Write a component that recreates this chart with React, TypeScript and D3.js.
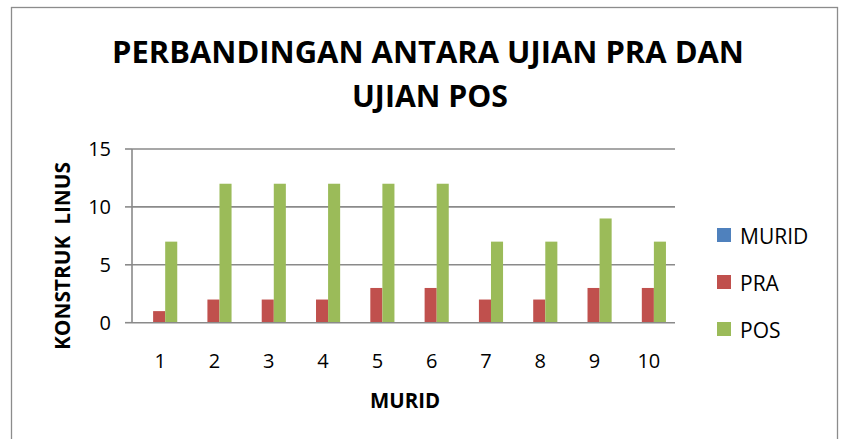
import React, { useEffect, useRef } from "react";
import * as d3 from "d3";

const categories = ["1", "2", "3", "4", "5", "6", "7", "8", "9", "10"];
const seriesNames = ["MURID", "PRA", "POS"];
const muridValues = [0, 0, 0, 0, 0, 0, 0, 0, 0, 0];
const praValues = [1, 2, 2, 2, 3, 3, 2, 2, 3, 3];
const posValues = [7, 12, 12, 12, 12, 12, 7, 7, 9, 7];
const yTicks = [0, 5, 10, 15];
const colors = ["#4F81BD", "#C0504D", "#9BBB59"];

const App: React.FC = () => {
  const svgRef = useRef(null);

  useEffect(() => {
    if (!svgRef.current) return;
    const svg = d3.select(svgRef.current);
    svg.selectAll("*").remove();

    const width = 844;
    const height = 439;
    const font = "'Open Sans', 'Liberation Sans', sans-serif";

    svg.attr("width", width).attr("height", height);

    // chart frame
    svg
      .append("rect")
      .attr("x", 11.5)
      .attr("y", 7.5)
      .attr("width", 826)
      .attr("height", 440)
      .attr("fill", "white")
      .attr("stroke", "#8c8c8c")
      .attr("stroke-width", 1.3);

    // title
    const title = svg
      .append("g")
      .attr("font-family", font)
      .attr("font-weight", "bold")
      .attr("font-size", 31)
      .attr("fill", "#000")
      .attr("text-anchor", "middle");
    title
      .append("text")
      .attr("x", 428)
      .attr("y", 63)
      .attr("textLength", 632)
      .attr("lengthAdjust", "spacingAndGlyphs")
      .text("PERBANDINGAN ANTARA UJIAN PRA DAN");
    title
      .append("text")
      .attr("x", 430)
      .attr("y", 107)
      .attr("textLength", 156)
      .attr("lengthAdjust", "spacingAndGlyphs")
      .text("UJIAN POS");

    const left = 132;
    const right = 675;
    const top = 149;
    const bottom = 322.7;

    const x = d3.scaleBand().domain(categories).range([left, right]).padding(0);
    const y = d3.scaleLinear().domain([0, 15]).range([bottom, top]);

    // gridlines
    svg
      .append("g")
      .selectAll("line")
      .data(yTicks.filter((t) => t > 0))
      .join("line")
      .attr("x1", left)
      .attr("x2", right)
      .attr("y1", (d) => y(d))
      .attr("y2", (d) => y(d))
      .attr("stroke", "#8a8a8a")
      .attr("stroke-width", 1.6);

    // bars, Excel style gap width 150%
    const bw = x.bandwidth() / 4.5;
    const allSeries = [muridValues, praValues, posValues];
    allSeries.forEach((vals, si) => {
      svg
        .append("g")
        .selectAll("rect")
        .data(vals)
        .join("rect")
        .attr("x", (d, i) => (x(categories[i]) as number) + bw * 0.75 + si * bw)
        .attr("y", (d) => y(d))
        .attr("width", bw)
        .attr("height", (d) => bottom - y(d))
        .attr("fill", colors[si]);
    });

    // y axis
    const yAxis = svg.append("g");
    yAxis
      .append("line")
      .attr("x1", left)
      .attr("x2", left)
      .attr("y1", top)
      .attr("y2", bottom)
      .attr("stroke", "#8a8a8a")
      .attr("stroke-width", 1.6);
    yAxis
      .selectAll("line.tick")
      .data(yTicks)
      .join("line")
      .attr("class", "tick")
      .attr("x1", 125)
      .attr("x2", left)
      .attr("y1", (d) => y(d))
      .attr("y2", (d) => y(d))
      .attr("stroke", "#8a8a8a")
      .attr("stroke-width", 1.6);
    yAxis
      .selectAll("text")
      .data(yTicks)
      .join("text")
      .attr("x", 111)
      .attr("y", (d) => y(d) + 7)
      .attr("text-anchor", "end")
      .attr("font-family", font)
      .attr("font-size", 20)
      .attr("fill", "#000")
      .text((d) => d);

    // x axis
    svg
      .append("line")
      .attr("x1", left)
      .attr("x2", right)
      .attr("y1", bottom)
      .attr("y2", bottom)
      .attr("stroke", "#8a8a8a")
      .attr("stroke-width", 1.6);
    svg
      .append("g")
      .selectAll("text")
      .data(categories)
      .join("text")
      .attr("x", (d) => (x(d) as number) + x.bandwidth() / 2 + 1)
      .attr("y", 368)
      .attr("text-anchor", "middle")
      .attr("font-family", font)
      .attr("font-size", 20)
      .attr("fill", "#000")
      .text((d) => d);

    // axis titles
    svg
      .append("text")
      .attr("x", 405)
      .attr("y", 408)
      .attr("text-anchor", "middle")
      .attr("font-family", font)
      .attr("font-weight", "bold")
      .attr("font-size", 21)
      .attr("textLength", 70)
      .attr("lengthAdjust", "spacingAndGlyphs")
      .text("MURID");
    svg
      .append("text")
      .attr("transform", "translate(70,256) rotate(-90)")
      .attr("text-anchor", "middle")
      .attr("font-family", font)
      .attr("font-weight", "bold")
      .attr("font-size", 21)
      .attr("textLength", 188)
      .attr("lengthAdjust", "spacingAndGlyphs")
      .style("white-space", "pre")
      .text("KONSTRUK  LINUS");

    // legend
    const legend = svg
      .append("g")
      .selectAll("g")
      .data(seriesNames)
      .join("g")
      .attr("transform", (d, i) => `translate(717,${228 + i * 47})`);
    legend
      .append("rect")
      .attr("width", 14)
      .attr("height", 14)
      .attr("fill", (d, i) => colors[i]);
    legend
      .append("text")
      .attr("x", 23)
      .attr("y", 16)
      .attr("font-family", font)
      .attr("font-size", 21)
      .attr("fill", "#000")
      .text((d) => d);
  }, []);

  return (
    <svg
      ref={svgRef}
      style={{ position: "absolute", left: 0, top: 0, display: "block" }}
    />
  );
};

export default App;
